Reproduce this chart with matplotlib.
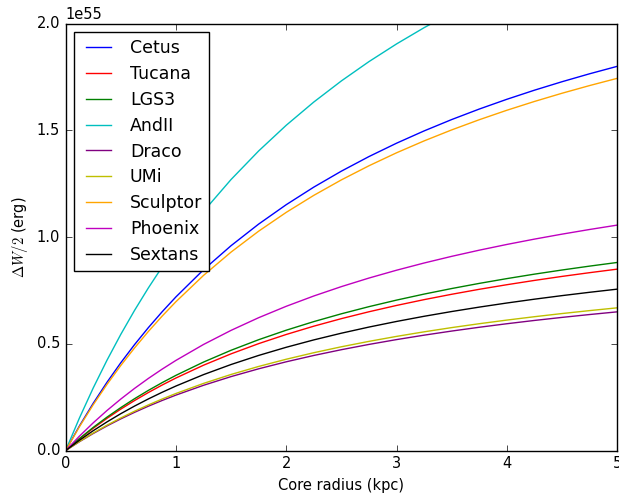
import numpy as np
import matplotlib
matplotlib.use('Agg')
import matplotlib.pyplot as plt

plt.style.use('classic')

# core radius (kpc)
r = [0, 0.125, 0.25, 0.375, 0.5, 0.625, 0.75, 0.875, 1.0, 1.25, 1.5, 1.75, 2.0, 2.25, 2.5,
     2.75, 3.0, 3.25, 3.5, 3.75, 4.0, 4.25, 4.5, 4.75, 5.0]

# Delta W / 2 in units of 1e55 erg
cetus = [0, 0.1152, 0.2215, 0.32, 0.4114, 0.4966, 0.576, 0.6503, 0.72, 0.8471, 0.96, 1.0611,
         1.152, 1.2343, 1.3091, 1.3774, 1.44, 1.4976, 1.5508, 1.6, 1.6457, 1.6883, 1.728,
         1.7652, 1.8]
tucana = [0, 0.0544, 0.1046, 0.1511, 0.1943, 0.2345, 0.272, 0.3071, 0.34, 0.4, 0.4533, 0.5011,
          0.544, 0.5829, 0.6182, 0.6504, 0.68, 0.7072, 0.7323, 0.7556, 0.7771, 0.7972, 0.816,
          0.8335, 0.85]
lgs3 = [0, 0.0564, 0.1085, 0.1567, 0.2014, 0.2431, 0.282, 0.3184, 0.3525, 0.4147, 0.47, 0.5195,
        0.564, 0.6043, 0.6409, 0.6743, 0.705, 0.7332, 0.7592, 0.7833, 0.8057, 0.8266, 0.846,
        0.8642, 0.8813]
andii = [0, 0.1524, 0.2931, 0.4233, 0.5443, 0.6569, 0.762, 0.8603, 0.9525, 1.1206, 1.27, 1.4037,
         1.524, 1.6329, 1.7318, 1.8222, 1.905, 1.9812, 2.0515, 2.1167, 2.1771, 2.2334, 2.286,
         2.3352, 2.3813]
draco = [0, 0.0416, 0.08, 0.1156, 0.1486, 0.1793, 0.208, 0.2348, 0.26, 0.3059, 0.3467, 0.3832,
         0.416, 0.4457, 0.4727, 0.4974, 0.52, 0.5408, 0.56, 0.5778, 0.5943, 0.6097, 0.624,
         0.6374, 0.65]
umi = [0, 0.0428, 0.0823, 0.1189, 0.1529, 0.1845, 0.214, 0.2416, 0.2675, 0.3147, 0.3567, 0.3942,
       0.428, 0.4586, 0.4864, 0.5117, 0.535, 0.5564, 0.5762, 0.5944, 0.6114, 0.6272, 0.642,
       0.6558, 0.6688]
sculptor = [0, 0.1116, 0.2146, 0.31, 0.3986, 0.481, 0.558, 0.63, 0.6975, 0.8206, 0.93, 1.0279,
            1.116, 1.1957, 1.2682, 1.3343, 1.395, 1.4508, 1.5023, 1.55, 1.5943, 1.6355, 1.674,
            1.71, 1.7438]
phoenix = [0, 0.0676, 0.13, 0.1878, 0.2414, 0.2914, 0.338, 0.3816, 0.4225, 0.4971, 0.5633, 0.6226,
           0.676, 0.7243, 0.7682, 0.8083, 0.845, 0.8788, 0.91, 0.9389, 0.9657, 0.9907, 1.014,
           1.0358, 1.0563]
sextans = [0, 0.0484, 0.0931, 0.1344, 0.1729, 0.2086, 0.242, 0.2732, 0.3025, 0.3559, 0.4033, 0.4458,
           0.484, 0.5186, 0.55, 0.5787, 0.605, 0.6292, 0.6515, 0.6722, 0.6914, 0.7093, 0.726,
           0.7416, 0.7563]

names = ['Cetus', 'Tucana', 'LGS3', 'AndII', 'Draco', 'UMi', 'Sculptor', 'Phoenix', 'Sextans']
series = [cetus, tucana, lgs3, andii, draco, umi, sculptor, phoenix, sextans]
colors = ['b', 'r', 'g', 'c', 'purple', 'y', 'orange', 'm', 'k']

plt.rcParams['font.size'] = 10.5

fig = plt.figure(figsize=(6.19, 4.93), dpi=100, facecolor='white')
ax = fig.add_axes([0.106, 0.086, 0.891, 0.866])

for name, vals, col in zip(names, series, colors):
    ax.plot(r, np.array(vals) * 1e55, color=col, label=name)

ax.set_xlim(0, 5)
ax.set_ylim(0, 2e55)
ax.set_yticks(np.arange(0, 2.01e55, 0.5e55))
ax.set_xlabel('Core radius (kpc)')
ax.set_ylabel(r'$\Delta W/2$ (erg)')
ax.legend(loc='upper left', fontsize=12.5, labelspacing=0.45)

fig.savefig('out.png', dpi=100, facecolor='white')
